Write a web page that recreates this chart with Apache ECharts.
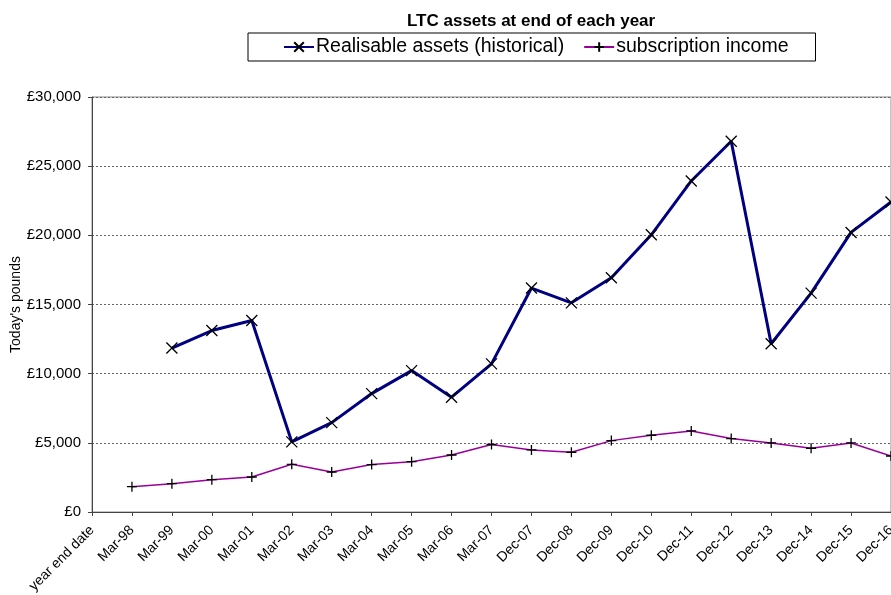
<!DOCTYPE html>
<html>
<head>
<meta charset="utf-8">
<title>LTC assets at end of each year</title>
<script src="https://cdn.jsdelivr.net/npm/echarts@6/dist/echarts.min.js"></script>
<style>
  html, body { margin: 0; padding: 0; background: #fff; }
  #chart { width: 891px; height: 595px; }
</style>
</head>
<body>
<div id="chart"></div>
<script>
// categories along the bottom (first slot is just the axis caption)
var yearEnds = ['year end date', 'Mar-98', 'Mar-99', 'Mar-00', 'Mar-01', 'Mar-02', 'Mar-03',
  'Mar-04', 'Mar-05', 'Mar-06', 'Mar-07', 'Dec-07', 'Dec-08', 'Dec-09', 'Dec-10',
  'Dec-11', 'Dec-12', 'Dec-13', 'Dec-14', 'Dec-15', 'Dec-16']

// values, today's pounds
var realisableAssets = [null, null, 11850, 13120, 13840, 5070, 6460, 8560, 10220, 8300, 10710,
  16190, 15120, 16930, 20040, 23930, 26800, 12160, 15820, 20210, 22410]
var subscriptionIncome = [null, 1830, 2050, 2340, 2530, 3450, 2890, 3430, 3640, 4120, 4880,
  4490, 4320, 5160, 5550, 5860, 5310, 4990, 4610, 4990, 4050]

var yTicks = { min: 0, max: 30000, step: 5000 }

var crossMark = 'path://M0,0L10,10M10,0L0,10'
var plusMark = 'path://M5,0L5,10M0,5L10,5'

var chart = echarts.init(document.getElementById('chart'))

var options = {
  backgroundColor: '#fff',
  animation: false,
  textStyle: { fontFamily: 'Liberation Sans, Arial, sans-serif' },
  title: {
    text: 'LTC assets at end of each year',
    left: 402,
    top: 8,
    textStyle: { fontSize: 17, fontWeight: 'bold', color: '#000' }
  },
  legend: {
    left: 248,
    top: 33,
    padding: [4, 27, 4, 35],
    itemGap: 19,
    itemWidth: 30,
    itemHeight: 12,
    borderColor: '#000',
    borderWidth: 1,
    textStyle: { fontSize: 19.5, color: '#000', padding: [0, 0, 0, -3] },
    data: ['Realisable assets (historical)', 'subscription income']
  },
  grid: {
    left: 92,
    top: 97,
    width: 799,
    height: 415,
    outerBoundsMode: 'none',
    show: true,
    borderColor: '#888',
    borderWidth: 1,
    backgroundColor: '#fff'
  },
  xAxis: {
    type: 'category',
    data: yearEnds,
    boundaryGap: false,
    axisLine: { lineStyle: { color: '#444', width: 1 } },
    axisTick: { show: true, length: 4, alignWithLabel: true, lineStyle: { color: '#444' } },
    axisLabel: {
      interval: 0,
      rotate: 45,
      margin: 16,
      fontSize: 14,
      color: '#000'
    },
    splitLine: { show: false }
  },
  yAxis: {
    type: 'value',
    min: yTicks.min,
    max: yTicks.max,
    interval: yTicks.step,
    name: "Today's pounds",
    nameLocation: 'middle',
    nameGap: 69,
    nameMoveOverlap: false,
    nameTextStyle: { fontSize: 14, color: '#000' },
    axisLine: { show: true, lineStyle: { color: '#444', width: 1 } },
    axisTick: { show: true, length: 4, lineStyle: { color: '#444' } },
    axisLabel: {
      fontSize: 15,
      color: '#000',
      margin: 11,
      formatter: function (v) {
        return '£' + v.toLocaleString('en-GB')
      }
    },
    splitLine: { show: true, lineStyle: { color: '#666', type: [2, 2], width: 1 } }
  },
  series: [
    {
      name: 'Realisable assets (historical)',
      type: 'line',
      data: realisableAssets,
      symbol: crossMark,
      symbolSize: 11,
      showAllSymbol: true,
      lineStyle: { color: '#000080', width: 3 },
      itemStyle: { color: '#000080', borderColor: '#000', borderWidth: 1.3 },
      z: 3
    },
    {
      name: 'subscription income',
      type: 'line',
      data: subscriptionIncome,
      symbol: plusMark,
      symbolSize: 10,
      showAllSymbol: true,
      lineStyle: { color: '#990099', width: 1.5 },
      itemStyle: { color: '#990099', borderColor: '#000', borderWidth: 1.3 },
      z: 2
    }
  ]
}

chart.setOption(options)
</script>
</body>
</html>
